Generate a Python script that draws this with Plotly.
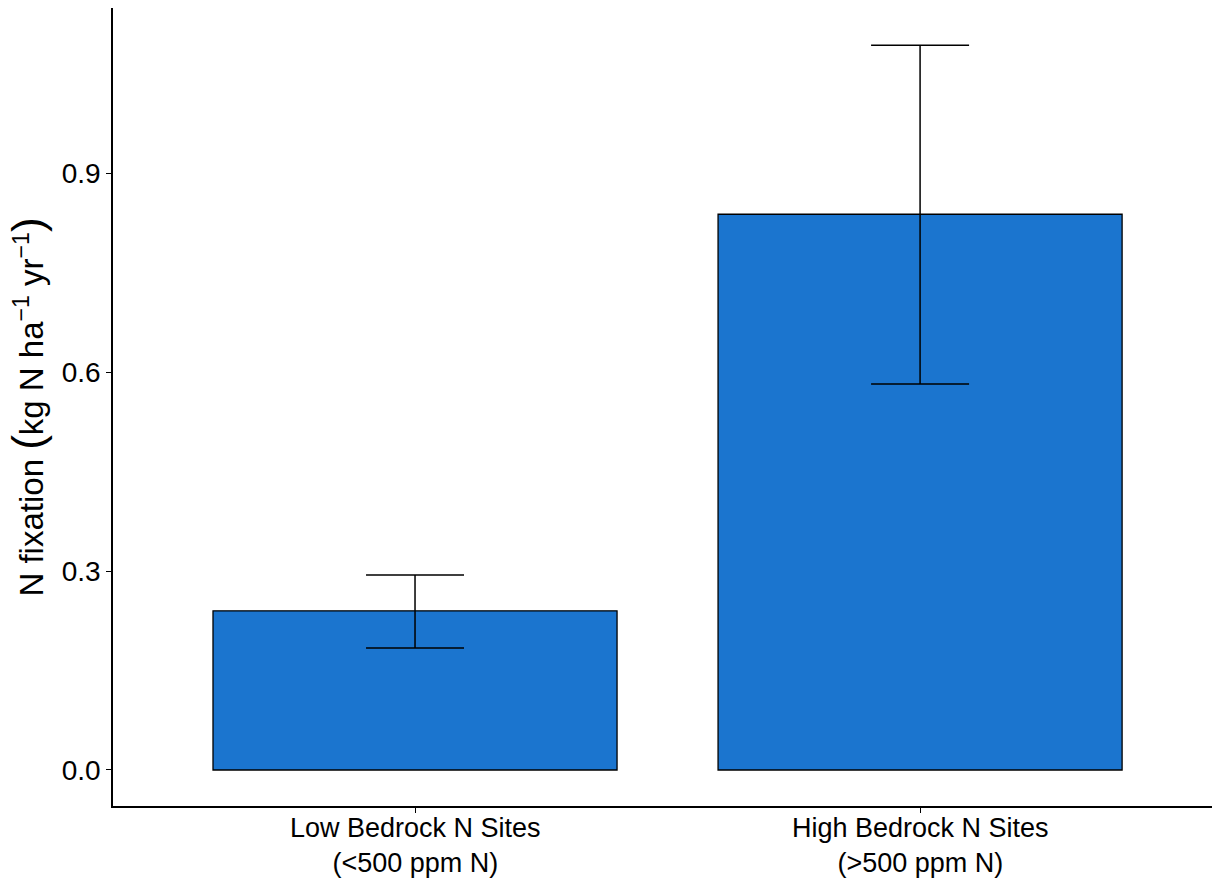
import plotly.graph_objects as go

category_line1 = ["Low Bedrock N Sites", "High Bedrock N Sites"]
category_line2 = ["(<500 ppm N)", "(>500 ppm N)"]
means = [0.240, 0.838]
err_upper = [0.294, 1.093]
err_lower = [0.184, 0.582]
y_ticks = [0.0, 0.3, 0.6, 0.9]
y_tick_labels = ["0.0", "0.3", "0.6", "0.9"]

plus = [u - m for u, m in zip(err_upper, means)]
minus = [m - l for m, l in zip(means, err_lower)]
xpos = list(range(len(means)))

fig = go.Figure()
fig.add_trace(go.Bar(
    x=xpos, y=means, width=0.8,
    marker=dict(color="#1B75CF", line=dict(color="black", width=1.3)),
    error_y=dict(type="data", symmetric=False, array=plus, arrayminus=minus,
                 color="black", thickness=1.5, width=49),
    showlegend=False,
))

font = "Liberation Sans, Arial, Helvetica, sans-serif"
fig.update_layout(
    width=1220, height=878,
    margin=dict(l=113, r=8, t=8, b=72, autoexpand=False),
    paper_bgcolor="white", plot_bgcolor="white",
    font=dict(family=font, color="black"),
    bargap=0.2,
)
fig.update_xaxes(
    range=[-0.598, 1.578], tickvals=xpos, showticklabels=False,
    showline=True, linecolor="black", linewidth=1.5,
    ticks="outside", ticklen=5, tickwidth=1.2, tickcolor="black",
    showgrid=False, zeroline=False, automargin=False,
)
for xi, l1, l2 in zip(xpos, category_line1, category_line2):
    fig.add_annotation(x=xi, xref="x", y=-0.0495, yref="paper", yanchor="middle",
                       text=l1 + "<br>" + l2, showarrow=False,
                       font=dict(size=27, color="black"))
fig.update_yaxes(
    range=[-0.0543, 1.149], tickvals=y_ticks, ticktext=y_tick_labels,
    showline=True, linecolor="black", linewidth=1.5,
    ticks="outside", ticklen=5, tickwidth=1.2, tickcolor="black",
    tickfont=dict(size=28, color="black"), showgrid=False, zeroline=False,
    automargin=False,
    title=dict(text="N fixation <span style='font-size:44px'>(</span>kg N ha<sup>−1</sup> yr<sup>−1</sup><span style='font-size:44px'>)</span>",
               font=dict(size=33, color="black"), standoff=8),
)

fig.write_html("out.html", config={"displayModeBar": False},
               post_script="document.body.style.margin='0';document.body.style.overflow='hidden';")
